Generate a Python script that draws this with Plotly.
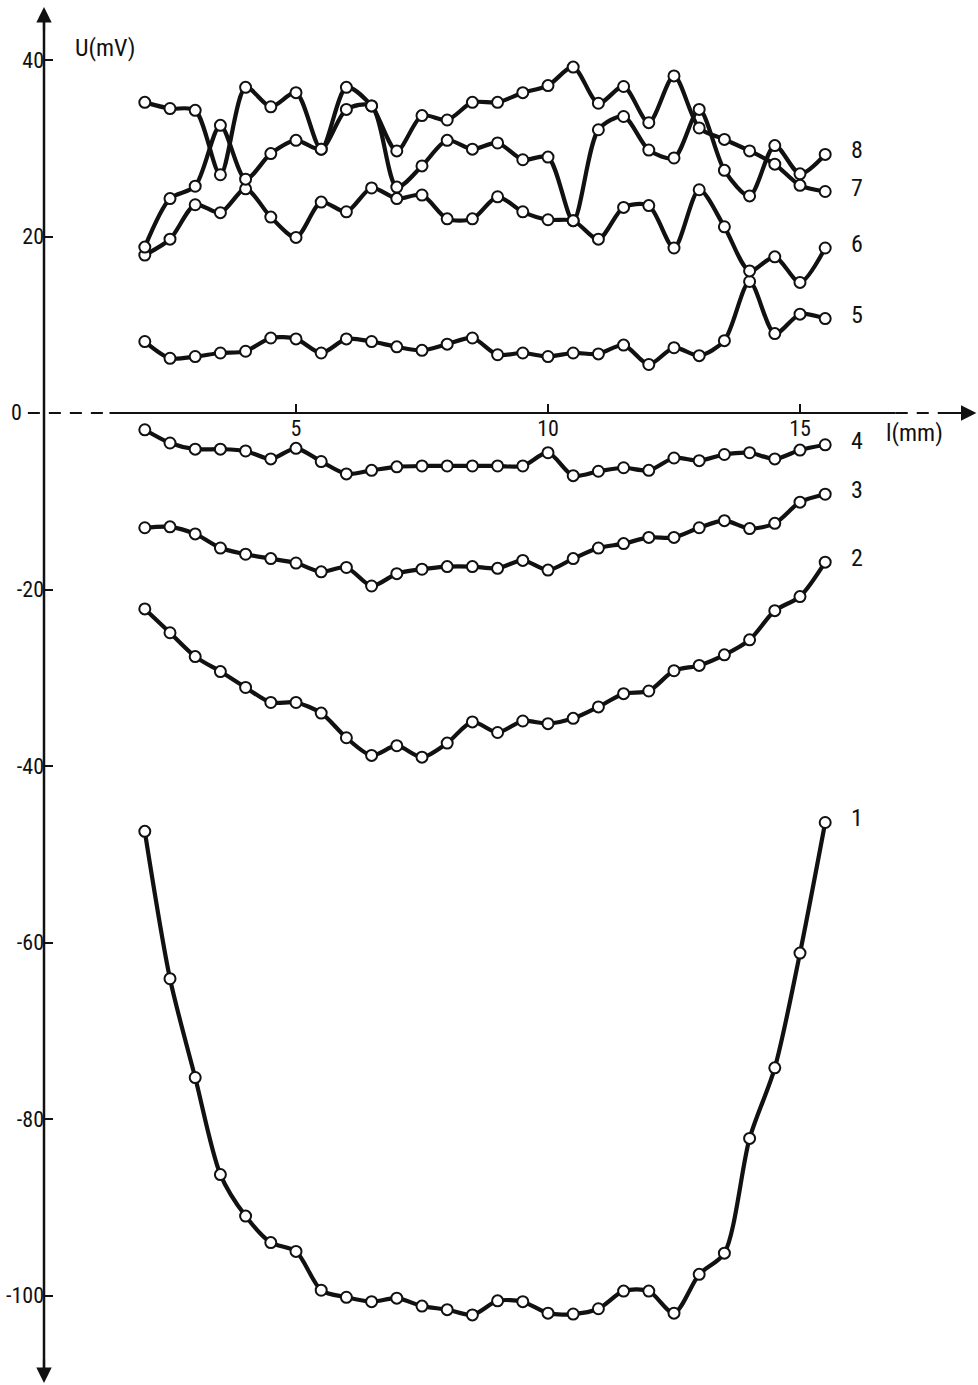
import plotly.graph_objects as go

# ---------------- data ----------------
l_mm = [2.0, 2.5, 3.0, 3.5, 4.0, 4.5, 5.0, 5.5, 6.0, 6.5, 7.0, 7.5, 8.0, 8.5,
        9.0, 9.5, 10.0, 10.5, 11.0, 11.5, 12.0, 12.5, 13.0, 13.5, 14.0, 14.5, 15.0, 15.5]

U1 = [-47.4, -64.1, -75.3, -86.3, -91.0, -94.0, -95.0, -99.4, -100.2, -100.7,
      -100.3, -101.2, -101.6, -102.2, -100.6, -100.7, -102.0, -102.1, -101.5, -99.5,
      -99.5, -102.0, -97.6, -95.2, -82.2, -74.2, -61.2, -46.4]
U2 = [-22.2, -24.9, -27.6, -29.3, -31.1, -32.8, -32.8, -34.0, -36.8, -38.8,
      -37.7, -39.0, -37.4, -35.0, -36.2, -34.9, -35.2, -34.6, -33.3, -31.8,
      -31.5, -29.2, -28.6, -27.4, -25.7, -22.4, -20.8, -16.9]
U3 = [-13.0, -12.9, -13.7, -15.3, -16.0, -16.5, -17.0, -18.0, -17.5, -19.6,
      -18.2, -17.7, -17.4, -17.4, -17.6, -16.7, -17.8, -16.5, -15.3, -14.8,
      -14.1, -14.1, -13.0, -12.2, -13.1, -12.5, -10.1, -9.2]
U4 = [-1.9, -3.4, -4.1, -4.1, -4.3, -5.2, -4.0, -5.5, -6.9, -6.5,
      -6.1, -6.0, -6.0, -6.0, -6.0, -6.0, -4.5, -7.1, -6.6, -6.2,
      -6.5, -5.1, -5.4, -4.7, -4.5, -5.2, -4.2, -3.6]
U5 = [8.1, 6.2, 6.4, 6.8, 7.0, 8.5, 8.4, 6.8, 8.4, 8.1,
      7.5, 7.1, 7.8, 8.5, 6.6, 6.8, 6.4, 6.8, 6.7, 7.7,
      5.5, 7.4, 6.5, 8.2, 14.9, 9.0, 11.2, 10.7]
U6 = [17.9, 19.7, 23.6, 22.7, 25.4, 22.2, 19.9, 23.9, 22.8, 25.5,
      24.3, 24.7, 22.0, 22.0, 24.5, 22.8, 21.9, 21.8, 19.7, 23.3,
      23.5, 18.7, 25.3, 21.1, 16.1, 17.7, 14.8, 18.7]
U7 = [35.2, 34.5, 34.3, 27.0, 36.9, 34.7, 36.3, 29.9, 36.9, 34.8,
      29.7, 33.7, 33.2, 35.2, 35.2, 36.3, 37.1, 39.2, 35.1, 37.0,
      32.9, 38.2, 32.3, 31.0, 29.7, 28.2, 25.8, 25.1]
U8 = [18.8, 24.3, 25.7, 32.6, 26.5, 29.4, 30.9, 29.9, 34.4, 34.8,
      25.6, 28.0, 30.9, 29.9, 30.6, 28.7, 29.0, 21.8, 32.1, 33.6,
      29.8, 28.9, 34.4, 27.5, 24.6, 30.3, 27.1, 29.3]

series = [("1", U1), ("2", U2), ("3", U3), ("4", U4),
          ("5", U5), ("6", U6), ("7", U7), ("8", U8)]

y_ticks = [40, 20, 0, -20, -40, -60, -80, -100]
y_tick_text = ["40", "20", "0", "-20", "-40", "-60", "-80", "-100"]
x_ticks = [5, 10, 15]
x_tick_text = ["5", "10", "15"]

x_title = "l(mm)"
y_title = "U(mV)"

# ---------------- style ----------------
INK = "#111111"
FONT = "Liberation Sans Narrow, Roboto Condensed, DejaVu Sans Condensed, Arial Narrow, sans-serif"
W, H = 978, 1385
X_RANGE = [-0.873, 18.532]
Y_RANGE = [-110.14, 46.80]

fig = go.Figure()

# lines first
for name, vals in series:
    fig.add_trace(go.Scatter(
        x=l_mm, y=vals, mode="lines", name=name,
        line=dict(color=INK, width=4.2, shape="spline", smoothing=0.8),
        hoverinfo="skip", showlegend=False))
# then markers on top
for name, vals in series:
    fig.add_trace(go.Scatter(
        x=l_mm, y=vals, mode="markers", name=name,
        marker=dict(size=11, color="white", line=dict(color=INK, width=2)),
        showlegend=False))

# curve labels at the end of every curve
for name, vals in series:
    fig.add_annotation(x=l_mm[-1], y=vals[-1], text=name, showarrow=False,
                       xshift=32, yshift=4, xanchor="center", yanchor="middle",
                       font=dict(family=FONT, size=24, color=INK))

# axis lines
fig.add_shape(type="line", x0=0, x1=0, y0=-109.5, y1=45.6,
              line=dict(color=INK, width=2.5))
fig.add_shape(type="line", x0=1.3, x1=16.9, y0=0, y1=0,
              line=dict(color=INK, width=2.2))
fig.add_shape(type="line", x0=-0.32, x1=1.3, y0=0, y1=0,
              line=dict(color=INK, width=2.2, dash="12px,9px"))
fig.add_shape(type="line", x0=16.9, x1=18.0, y0=0, y1=0,
              line=dict(color=INK, width=2.2, dash="12px,9px"))

# arrow heads
fig.add_annotation(x=0, y=46.0, ax=0, ay=25, text="", showarrow=True,
                   arrowhead=2, arrowsize=1.4, arrowwidth=2.2, arrowcolor=INK)
fig.add_annotation(x=0, y=-109.9, ax=0, ay=-25, text="", showarrow=True,
                   arrowhead=2, arrowsize=1.4, arrowwidth=2.2, arrowcolor=INK)
fig.add_annotation(x=18.5, y=0, ax=-30, ay=0, text="", showarrow=True,
                   arrowhead=2, arrowsize=1.4, arrowwidth=2.2, arrowcolor=INK)

# zero label of the U axis sits left of the dashed part of the l axis
zero_idx = y_ticks.index(0)
fig.add_annotation(x=0, y=y_ticks[zero_idx], text=y_tick_text[zero_idx],
                   showarrow=False, xshift=-28, yshift=1,
                   font=dict(family=FONT, size=22, color=INK))
y_tv = [v for v in y_ticks if v != 0]
y_tt = [t for v, t in zip(y_ticks, y_tick_text) if v != 0]

# axis titles
fig.add_annotation(x=1.21, y=41.4, text=y_title, showarrow=False,
                   font=dict(family=FONT, size=24, color=INK))
fig.add_annotation(x=17.28, y=-2.3, text=x_title, showarrow=False,
                   font=dict(family=FONT, size=24, color=INK))

fig.update_layout(
    width=W, height=H,
    margin=dict(l=0, r=0, t=0, b=0),
    paper_bgcolor="white", plot_bgcolor="white",
    showlegend=False,
    xaxis=dict(range=X_RANGE, anchor="free", position=(H - 413) / H,
               showgrid=False, zeroline=False, showline=False,
               tickmode="array", tickvals=x_ticks, ticktext=x_tick_text,
               ticks="inside", ticklen=9, tickwidth=2, tickcolor=INK,
               tickfont=dict(family=FONT, size=22, color=INK)),
    yaxis=dict(range=Y_RANGE, anchor="free", position=44 / W,
               showgrid=False, zeroline=False, showline=False,
               tickmode="array", tickvals=y_tv, ticktext=y_tt,
               ticks="inside", ticklen=8, tickwidth=2, tickcolor=INK,
               tickfont=dict(family=FONT, size=22, color=INK)),
)

fig.write_html("out.html", config={"displayModeBar": False},
               post_script="document.body.style.margin='0px';")
